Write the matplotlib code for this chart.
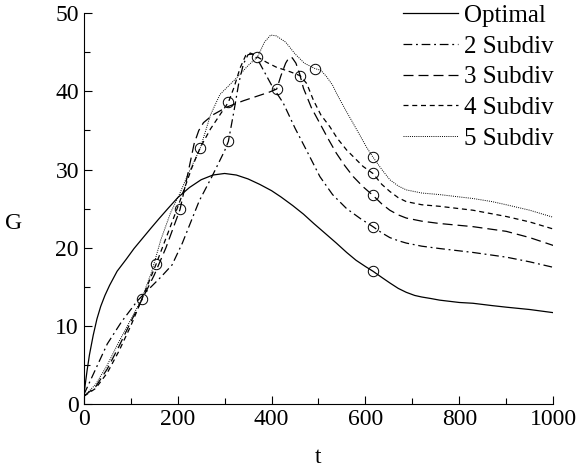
import numpy as np
import matplotlib.pyplot as plt
from matplotlib.ticker import MultipleLocator

# ---- data ----
t_opt = [0, 3, 7, 12, 20, 28, 36, 45, 55, 71, 90, 107, 125, 143, 160, 179, 200, 225, 250,
         275, 300, 325, 350, 375, 400, 420, 445, 468, 490, 515, 538, 560, 580, 600, 616,
         635, 652, 670, 687, 705, 720, 740, 758, 800, 829, 870, 900, 950, 1000]
g_opt = [1.0, 2.5, 4.3, 6.3, 8.8, 10.9, 12.5, 13.9, 15.2, 17.0, 18.5, 19.9, 21.2, 22.5,
         23.7, 25.0, 26.4, 27.7, 28.7, 29.3, 29.5, 29.3, 28.8, 28.1, 27.3, 26.5, 25.4,
         24.3, 23.1, 21.8, 20.6, 19.4, 18.4, 17.6, 17.0, 16.2, 15.5, 14.8, 14.3, 13.9,
         13.7, 13.5, 13.3, 13.0, 12.9, 12.6, 12.4, 12.1, 11.7]

t_s2 = [0, 20, 50, 80, 114, 140, 165, 188, 210, 230, 246, 273, 300, 308, 320, 330, 340,
        350, 362, 372, 400, 425, 450, 475, 503, 530, 560, 590, 616, 635, 652, 670, 687,
        720, 758, 829, 900, 950, 1000]
g_s2 = [1.2, 3.8, 7.7, 10.5, 13.2, 14.8, 16.3, 17.8, 20.6, 23.6, 26.0, 29.1, 32.4, 33.6,
        37.5, 41.0, 43.5, 44.7, 44.8, 43.9, 40.8, 38.5, 35.3, 32.4, 29.1, 26.8, 25.0,
        23.7, 22.7, 21.9, 21.3, 20.9, 20.6, 20.2, 19.9, 19.4, 18.8, 18.2, 17.5]

t_s3 = [0, 25, 50, 75, 100, 125, 150, 175, 205, 220, 235, 245, 255, 275, 305, 340, 370,
        395, 411, 420, 430, 437, 444, 452, 460, 468, 485, 503, 520, 538, 556, 574, 595,
        616, 635, 652, 670, 687, 720, 758, 829, 900, 950, 1000]
g_s3 = [1.0, 2.2, 4.5, 7.4, 10.5, 13.5, 16.5, 20.0, 24.9, 29.0, 33.3, 35.0, 36.0, 37.0,
        38.0, 38.8, 39.4, 39.9, 40.3, 42.0, 43.6, 44.3, 44.3, 43.6, 42.2, 40.4, 37.9,
        35.9, 34.0, 32.1, 30.5, 29.1, 27.8, 26.7, 25.6, 24.8, 24.2, 23.8, 23.4, 23.1,
        22.7, 22.1, 21.3, 20.3]

t_s4 = [0, 25, 50, 75, 100, 125, 154, 180, 205, 230, 248, 270, 290, 308, 320, 333, 345,
        355, 370, 390, 410, 440, 461, 475, 489, 505, 524, 540, 560, 580, 595, 616, 635,
        652, 670, 687, 720, 758, 829, 900, 950, 1000]
g_s4 = [1.0, 2.0, 4.0, 6.8, 10.0, 13.6, 17.9, 22.0, 26.0, 30.2, 32.8, 35.2, 37.0, 38.6,
        40.5, 43.0, 44.6, 44.9, 44.4, 43.7, 43.1, 42.5, 42.0, 41.0, 38.9, 37.0, 35.5,
        34.0, 32.5, 31.3, 30.4, 29.5, 28.1, 27.2, 26.4, 25.9, 25.5, 25.3, 24.8, 24.0,
        23.3, 22.4]

t_s5 = [0, 25, 50, 75, 100, 123, 145, 164, 185, 205, 225, 248, 270, 290, 310, 330, 350,
        370, 385, 398, 410, 430, 450, 470, 493, 505, 517, 530, 538, 556, 574, 590, 602,
        616, 635, 652, 670, 687, 720, 758, 800, 829, 870, 900, 950, 1000]
g_s5 = [1.0, 2.5, 5.0, 8.0, 10.8, 13.4, 17.0, 21.0, 24.5, 27.0, 29.8, 32.7, 37.0, 39.6,
        40.8, 42.0, 43.3, 44.4, 46.3, 47.2, 47.1, 46.3, 44.8, 43.6, 42.9, 42.7, 41.9,
        40.8, 39.8, 37.8, 35.9, 34.2, 32.9, 31.6, 30.0, 28.7, 27.9, 27.4, 27.0, 26.8,
        26.5, 26.3, 25.9, 25.5, 24.8, 23.9]

# subdivision points (circles)
knot_t = [616, 308, 616, 205, 411, 616, 154, 308, 461, 616, 123, 248, 370, 493, 616]
knot_g = [17.0, 33.6, 22.7, 24.9, 40.3, 26.7, 17.9, 38.6, 42.0, 29.5, 13.4, 32.7, 44.4,
          42.8, 31.6]

labels = ['Optimal', '2 Subdiv', '3 Subdiv', '4 Subdiv', '5 Subdiv']

plt.rcParams['font.family'] = ['Liberation Serif', 'DejaVu Serif']

fig = plt.figure(figsize=(5.78, 4.71), dpi=100)
ax = fig.add_axes([0.145, 0.142, 0.812, 0.830])

lw = 0.9
ax.plot(t_opt, g_opt, color='black', lw=lw, linestyle='-', label=labels[0])
ax.plot(t_s2, g_s2, color='black', lw=lw, linestyle=(0, (7, 3, 1.5, 3)), label=labels[1])
ax.plot(t_s3, g_s3, color='black', lw=lw, linestyle=(0, (8, 4)), label=labels[2])
ax.plot(t_s4, g_s4, color='black', lw=lw, linestyle=(0, (4, 3)), label=labels[3])
ax.plot(t_s5, g_s5, color='black', lw=0.7, linestyle=(0, (1, 1.2)), label=labels[4])

ax.plot(knot_t, knot_g, linestyle='none', marker='o', markersize=7.5,
        markerfacecolor='none', markeredgecolor='black', markeredgewidth=0.7)

ax.set_xlim(0, 1000)
ax.set_ylim(0, 50)
ax.xaxis.set_major_locator(MultipleLocator(200))
ax.xaxis.set_minor_locator(MultipleLocator(100))
ax.yaxis.set_major_locator(MultipleLocator(10))
ax.yaxis.set_minor_locator(MultipleLocator(5))
ax.tick_params(which='both', direction='in', labelsize=17, width=0.8)
ax.tick_params(which='major', length=6)
ax.tick_params(which='minor', length=4)
ax.spines['top'].set_visible(False)
ax.spines['right'].set_visible(False)

ax.set_xlabel('t', fontsize=17, labelpad=12)
ax.set_ylabel('G', fontsize=17, rotation=0)
ax.yaxis.set_label_coords(-0.149, 0.435)

ax.legend(loc='upper right', bbox_to_anchor=(1.05, 1.08), frameon=False, fontsize=18,
          handlelength=2.2, handletextpad=0.25, labelspacing=0.33)

plt.savefig('out.png', dpi=100)
